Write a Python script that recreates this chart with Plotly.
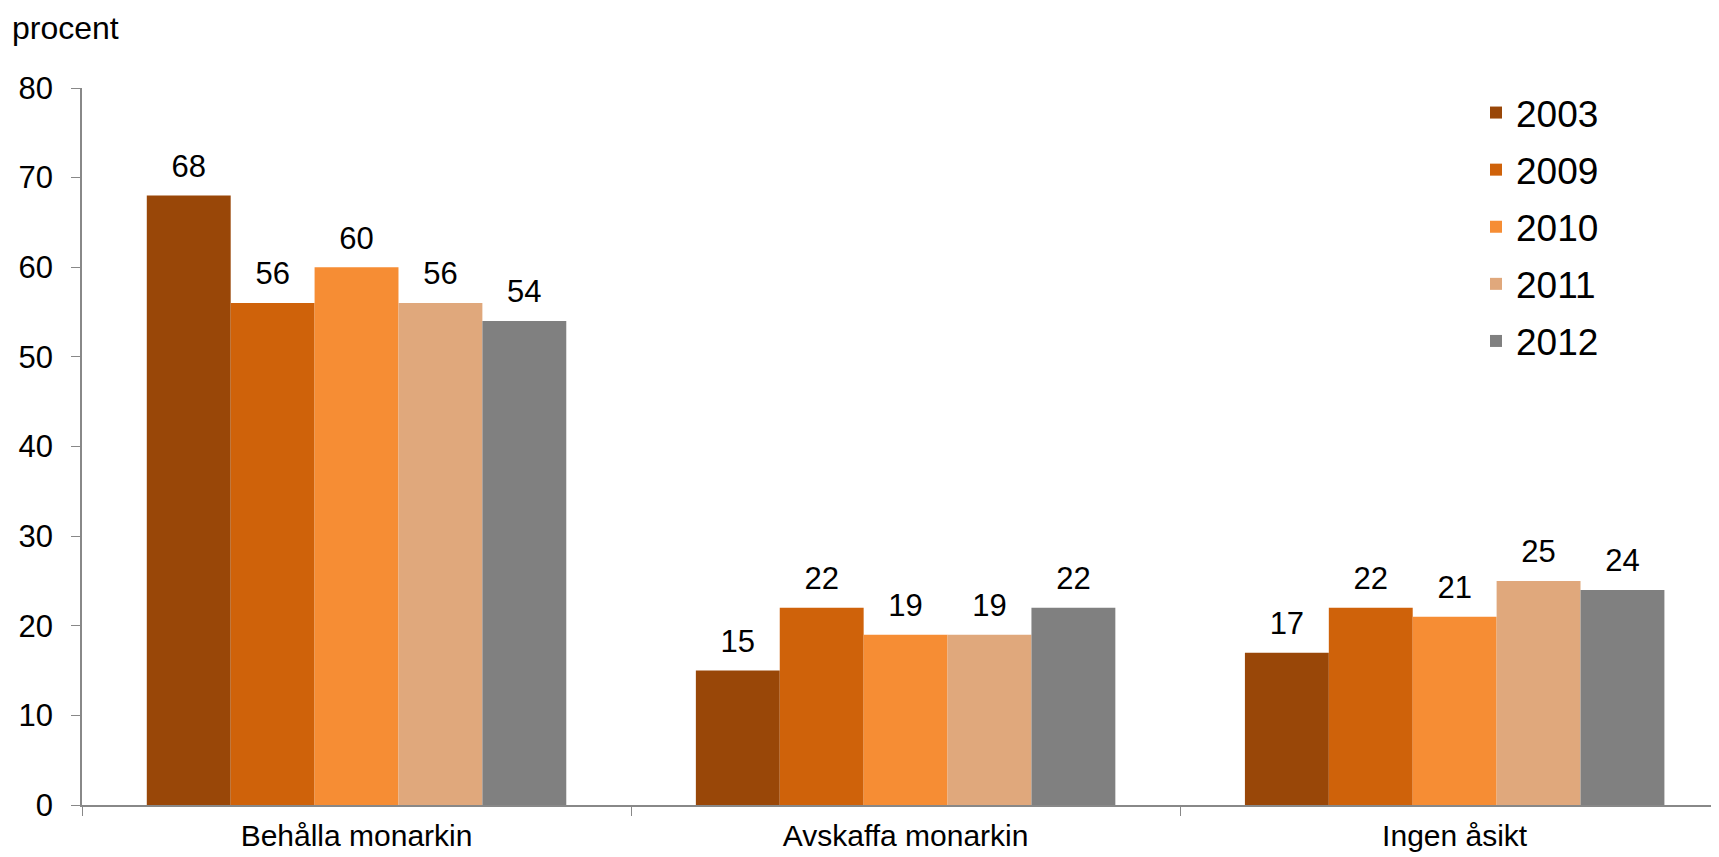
import plotly.graph_objects as go

categories = ["Behålla monarkin", "Avskaffa monarkin", "Ingen åsikt"]
years = ["2003", "2009", "2010", "2011", "2012"]
v2003 = [68, 15, 17]
v2009 = [56, 22, 22]
v2010 = [60, 19, 21]
v2011 = [56, 19, 25]
v2012 = [54, 22, 24]
series = [v2003, v2009, v2010, v2011, v2012]
colors = ["#994708", "#CF620A", "#F68D34", "#E0A87C", "#808080"]

W, H = 1719, 857
L, R, T, B = 74, 0, 80, 60
PW, PH = W - L - R, H - T - B
GAP = 0.236

fig = go.Figure()
for yr, vals, col in zip(years, series, colors):
    fig.add_trace(go.Bar(
        x=categories, y=vals, name=yr, legendgroup=yr,
        marker=dict(color=col, line=dict(width=0)),
        hoverinfo="skip",
    ))
for yr, vals in zip(years, series):
    fig.add_trace(go.Scatter(
        x=categories, y=vals, mode="markers+text", showlegend=False,
        marker=dict(size=16, opacity=0),
        text=[str(v) for v in vals], textposition="top center",
        textfont=dict(size=31, color="black", family="Liberation Sans, Arial"),
        cliponaxis=False, legendgroup=yr,
    ))

fig.update_layout(
    width=W, height=H,
    margin=dict(l=L, r=R, t=T, b=B, autoexpand=False),
    paper_bgcolor="white", plot_bgcolor="white",
    font=dict(family="Liberation Sans, Arial", size=32, color="black"),
    barmode="group", bargap=GAP, bargroupgap=0,
    scattermode="group", scattergap=GAP,
    showlegend=True,
    legend=dict(x=(1468 - L) / PW, y=1.0 - (74 - T) / PH,
                xanchor="left", yanchor="top",
                font=dict(size=37), tracegroupgap=6,
                bgcolor="rgba(0,0,0,0)", itemwidth=30),
    xaxis=dict(range=[-0.5, 2.496], showline=True, linecolor="#888888", linewidth=1.5,
               ticks="outside", tickson="boundaries", ticklen=9, tickcolor="#888888",
               tickfont=dict(size=30), ticklabelstandoff=3,
               showgrid=False, zeroline=False, fixedrange=True),
    yaxis=dict(range=[0, 80], dtick=10, showline=True, linecolor="#888888", linewidth=1.5,
               ticks="outside", ticklen=9, tickcolor="#888888", tickfont=dict(size=31),
               ticklabelstandoff=12,
               showgrid=False, zeroline=False, fixedrange=True),
    annotations=[dict(text="procent", xref="paper", yref="paper",
                      x=(2 - L) / PW, y=1 + (T - 20) / PH,
                      xanchor="left", yanchor="middle", showarrow=False,
                      font=dict(size=32))],
)

fig.write_html("out.html")
